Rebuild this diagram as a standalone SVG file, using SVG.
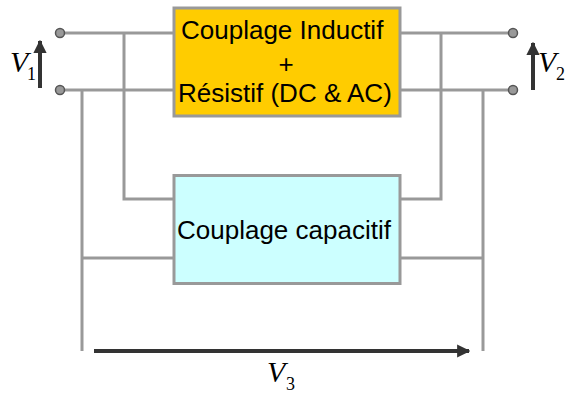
<svg xmlns="http://www.w3.org/2000/svg" width="566" height="394" viewBox="0 0 566 394">
<style>
.w{fill:none;stroke:#999999;stroke-width:3}
.box{stroke:#999999;stroke-width:3}
.t{font-family:"Liberation Sans",Arial,sans-serif;font-size:26px;fill:#000}
.v{font-family:"Liberation Serif","Times New Roman",serif;font-style:italic;font-size:30px;fill:#000}
.s{font-family:"Liberation Serif","Times New Roman",serif;font-size:18px;fill:#000}
.term{fill:#999999;stroke:#555555;stroke-width:1.5}
.arr{stroke:#333333;stroke-width:4;fill:none}
</style>
<defs>
<marker id="ah" viewBox="0 0 10 10" refX="9" refY="5" markerWidth="3.3" markerHeight="3.3" markerUnits="strokeWidth" orient="auto">
<path d="M0,0 L10,5 L0,10 Z" fill="#333333"/>
</marker>
</defs>
<g id="connectors">
<path class="w" d="M60,33 H174 M400,33 H513"/>
<path class="w" d="M60,90 H174 M400,90 H513"/>
<path class="w" d="M124,33 V199 H174"/>
<path class="w" d="M441,33 V199 H400"/>
<path class="w" d="M82,90 V351 M82,258 H174"/>
<path class="w" d="M483,90 V351 M483,258 H400"/>
</g>
<g id="inductif">
<rect class="box" x="174" y="8" width="226" height="108" fill="#FFCC00"/>
<text class="t" x="181" y="39">Couplage Inductif</text>
<text class="t" x="286" y="73" text-anchor="middle">+</text>
<text class="t" x="178" y="102">Résistif (DC &amp; AC)</text>
</g>
<g id="capacitif">
<rect class="box" x="174" y="175.5" width="226" height="108" fill="#CCFFFF"/>
<text class="t" x="177" y="239">Couplage capacitif</text>
</g>
<g id="terminals">
<circle class="term" cx="60" cy="33" r="4.5"/>
<circle class="term" cx="60" cy="90" r="4.5"/>
<circle class="term" cx="513" cy="33" r="4.5"/>
<circle class="term" cx="513" cy="90" r="4.5"/>
</g>
<g id="v1">
<line class="arr" x1="40" y1="88" x2="40" y2="41" marker-end="url(#ah)"/>
<text class="v" x="10" y="72">V</text>
<text class="s" x="27" y="80">1</text>
</g>
<g id="v2">
<line class="arr" x1="533" y1="90" x2="533" y2="43" marker-end="url(#ah)"/>
<text class="v" x="538" y="72">V</text>
<text class="s" x="556" y="80">2</text>
</g>
<g id="v3">
<line class="arr" x1="94" y1="351" x2="469" y2="351" marker-end="url(#ah)"/>
<text class="v" x="267" y="382">V</text>
<text class="s" x="286" y="390">3</text>
</g>
</svg>
